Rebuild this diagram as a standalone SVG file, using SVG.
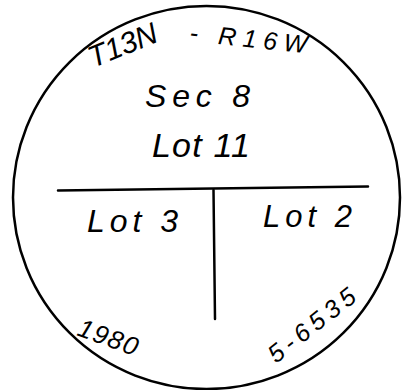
<svg xmlns="http://www.w3.org/2000/svg" width="411" height="390" viewBox="0 0 411 390">
<style>
.ln{fill:none;stroke:#000;stroke-width:2.5;stroke-linecap:round}
.t{font-family:"Liberation Sans",Arial,sans-serif;font-style:italic;fill:#000}
</style>
<rect width="411" height="390" fill="#fff"/>
<g id="boundary"><ellipse class="ln" cx="206.5" cy="197.5" rx="193.5" ry="191.5"/></g>
<g id="connectors">
<path class="ln" d="M58 190.5 L368 186.5"/>
<path class="ln" d="M213.5 190 L215 319"/>
</g>
<g id="header">
<text class="t" font-size="30" textLength="72" lengthAdjust="spacing" transform="translate(93 68) rotate(-22)">T13N</text>
<text class="t" font-size="25" textLength="118" lengthAdjust="spacing" transform="translate(189 41) rotate(6)">- R16W</text>
</g>
<g id="sec"><text class="t" font-size="32" textLength="105" lengthAdjust="spacing" x="145" y="107">Sec 8</text></g>
<g id="lot11"><text class="t" font-size="34" textLength="98" lengthAdjust="spacing" x="152" y="157">Lot 11</text></g>
<g id="lot3"><text class="t" font-size="32" textLength="91" lengthAdjust="spacing" x="87" y="232">Lot 3</text></g>
<g id="lot2"><text class="t" font-size="31" textLength="89" lengthAdjust="spacing" x="263" y="227">Lot 2</text></g>
<g id="year"><text class="t" font-size="26" textLength="62" lengthAdjust="spacing" transform="translate(76 335) rotate(20)">1980</text></g>
<g id="num"><text class="t" font-size="25" textLength="104" lengthAdjust="spacing" transform="translate(276 364) rotate(-38)">5-6535</text></g>
</svg>
